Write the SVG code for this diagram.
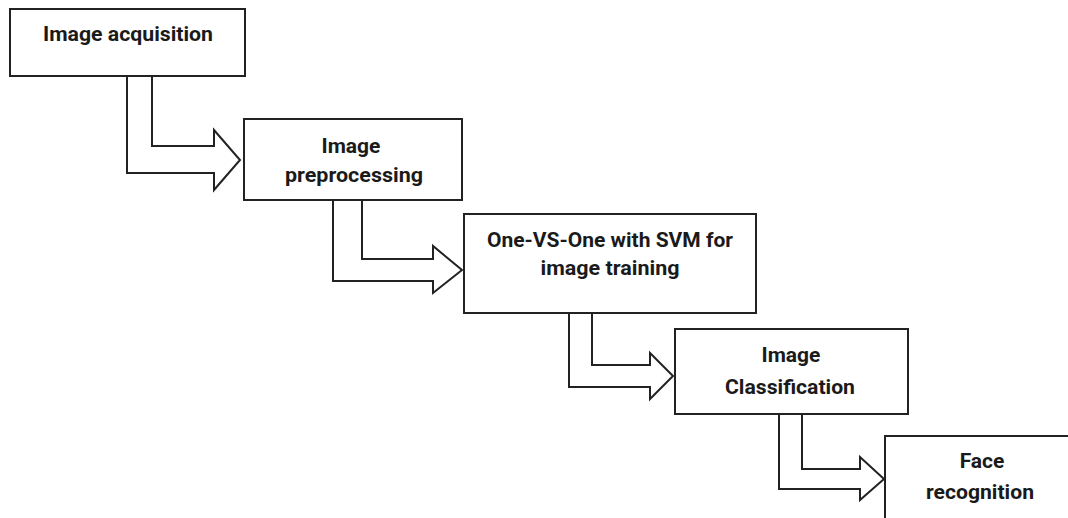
<svg xmlns="http://www.w3.org/2000/svg" width="1068" height="518" viewBox="0 0 1068 518">
<style>
.box{fill:#fff;stroke:#222;stroke-width:2}
.arr{fill:#fff;stroke:#222;stroke-width:2;stroke-linejoin:miter}
.t{font-family:Roboto,"Liberation Sans",sans-serif;font-weight:bold;font-size:21px;fill:#1a1a1a;text-anchor:middle}
</style>
<rect width="1068" height="518" fill="#fff"/>
<g id="connectors">
<polygon class="arr" points="127,76 127,173 214,173 214,190 240,160 214,130 214,146 152,146 152,76"/>
<polygon class="arr" points="333,200 333,281 433,281 433,293 462,270 433,246 433,259 362,259 362,200"/>
<polygon class="arr" points="569,313 569,387 650,387 650,399 673,376 650,353 650,365 592,365 592,313"/>
<polygon class="arr" points="779,414 779,489 860,489 860,500 884,479 860,457 860,469 802,469 802,414"/>
</g>
<g id="node1">
<rect class="box" x="10" y="9" width="235" height="67"/>
<text class="t" x="128" y="41" textLength="170" lengthAdjust="spacingAndGlyphs">Image acquisition</text>
</g>
<g id="node2">
<rect class="box" x="244" y="119" width="218" height="81"/>
<text class="t" x="351" y="153">Image</text>
<text class="t" x="354" y="182" textLength="138" lengthAdjust="spacingAndGlyphs">preprocessing</text>
</g>
<g id="node3">
<rect class="box" x="464" y="214" width="292" height="99"/>
<text class="t" x="610" y="247" textLength="246" lengthAdjust="spacingAndGlyphs">One-VS-One with SVM for</text>
<text class="t" x="610" y="275" textLength="139" lengthAdjust="spacingAndGlyphs">image training</text>
</g>
<g id="node4">
<rect class="box" x="675" y="329" width="233" height="85"/>
<text class="t" x="791" y="362">Image</text>
<text class="t" x="790" y="394" textLength="130" lengthAdjust="spacingAndGlyphs">Classification</text>
</g>
<g id="node5">
<rect class="box" x="885" y="436" width="200" height="100"/>
<text class="t" x="982" y="468">Face</text>
<text class="t" x="980" y="499" textLength="108" lengthAdjust="spacingAndGlyphs">recognition</text>
</g>
</svg>
